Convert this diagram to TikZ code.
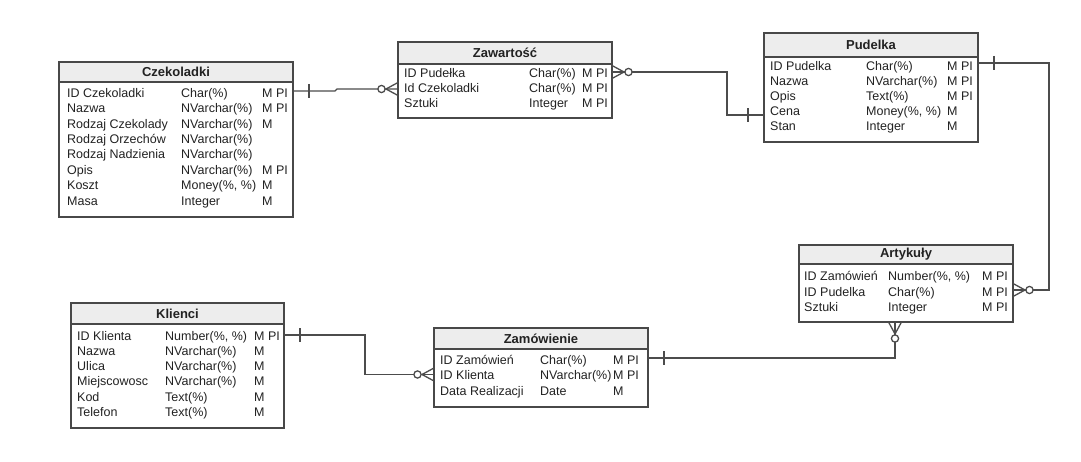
\documentclass[tikz,border=0pt]{standalone}
\usepackage{fontspec}
\setmainfont{Liberation Sans}
\definecolor{boxc}{HTML}{484848}
\definecolor{hdrc}{HTML}{EDEDED}
\definecolor{txtc}{HTML}{222222}
\definecolor{linec}{HTML}{4C4C4C}
\newcommand\erow[8]{%
  \node[cell] (#1a) at (#2,#5) {#6};
  \node[cell] (#1b) at (#3,#5) {#7};
  \node[cell] (#1c) at (#4,#5) {#8};}
\begin{document}
\begin{tikzpicture}[x=1pt,y=-1pt,
  tbl/.style={draw=boxc, line width=1.5pt, fill=white, inner sep=0pt, outer sep=0pt, anchor=north west},
  hdr/.style={draw=boxc, line width=1.5pt, fill=hdrc, inner sep=0pt, outer sep=0pt, anchor=north west,
              font=\fontsize{13}{15}\selectfont\bfseries, text=txtc},
  cell/.style={anchor=base west, inner sep=0pt, font=\fontsize{12.5}{14}\selectfont, text=txtc},
  conn/.style={draw=linec, line width=1.3pt},
  crowpic/.pic={\draw[conn] (0,-6.5) -- (12,0) -- (0,6.5);
                \draw[conn, fill=white] (16.5,0) circle[radius=3.6pt];},
  barpic/.pic={\draw[conn] (16,-7) -- (16,7);}
]
\useasboundingbox (0,0) rectangle (1081,462);

% ---------- Czekoladki ----------
\node[tbl, minimum width=234pt, minimum height=155pt] (czek) at (59,62) {};
\node[hdr, minimum width=234pt, minimum height=20pt] (czekH) at (59,62) {Czekoladki};
\erow{czek1}{67}{181}{262}{97.2}{ID Czekoladki}{Char(\%)}{M PI}
\erow{czek2}{67}{181}{262}{112.7}{Nazwa}{NVarchar(\%)}{M PI}
\erow{czek3}{67}{181}{262}{128.1}{Rodzaj Czekolady}{NVarchar(\%)}{M}
\erow{czek4}{67}{181}{262}{143.6}{Rodzaj Orzechów}{NVarchar(\%)}{}
\erow{czek5}{67}{181}{262}{159.0}{Rodzaj Nadzienia}{NVarchar(\%)}{}
\erow{czek6}{67}{181}{262}{174.5}{Opis}{NVarchar(\%)}{M PI}
\erow{czek7}{67}{181}{262}{189.9}{Koszt}{Money(\%, \%)}{M}
\erow{czek8}{67}{181}{262}{205.4}{Masa}{Integer}{M}

% ---------- Zawartość ----------
\node[tbl, minimum width=214pt, minimum height=76pt] (zaw) at (398,42) {};
\node[hdr, minimum width=214pt, minimum height=22pt] (zawH) at (398,42) {Zawartość};
\erow{zaw1}{404}{529}{582}{77.5}{ID Pudełka}{Char(\%)}{M PI}
\erow{zaw2}{404}{529}{582}{92.5}{Id Czekoladki}{Char(\%)}{M PI}
\erow{zaw3}{404}{529}{582}{107.5}{Sztuki}{Integer}{M PI}

% ---------- Pudelka ----------
\node[tbl, minimum width=214pt, minimum height=109pt] (pud) at (764,33) {};
\node[hdr, minimum width=214pt, minimum height=24pt] (pudH) at (764,33) {Pudelka};
\erow{pud1}{770}{866}{947}{70.2}{ID Pudelka}{Char(\%)}{M PI}
\erow{pud2}{770}{866}{947}{85.2}{Nazwa}{NVarchar(\%)}{M PI}
\erow{pud3}{770}{866}{947}{100.5}{Opis}{Text(\%)}{M PI}
\erow{pud4}{770}{866}{947}{115.5}{Cena}{Money(\%, \%)}{M}
\erow{pud5}{770}{866}{947}{130.5}{Stan}{Integer}{M}

% ---------- Artykuły ----------
\node[tbl, minimum width=214pt, minimum height=77pt] (art) at (799,245) {};
\node[hdr, minimum width=214pt, minimum height=19pt] (artH) at (799,245) {Artykuły};
\erow{art1}{804}{888}{982}{280.2}{ID Zamówień}{Number(\%, \%)}{M PI}
\erow{art2}{804}{888}{982}{296.2}{ID Pudelka}{Char(\%)}{M PI}
\erow{art3}{804}{888}{982}{311.2}{Sztuki}{Integer}{M PI}

% ---------- Klienci ----------
\node[tbl, minimum width=213pt, minimum height=125pt] (kli) at (71,303) {};
\node[hdr, minimum width=213pt, minimum height=21pt] (kliH) at (71,303) {Klienci};
\erow{kli1}{77}{165}{254}{340.2}{ID Klienta}{Number(\%, \%)}{M PI}
\erow{kli2}{77}{165}{254}{355.2}{Nazwa}{NVarchar(\%)}{M}
\erow{kli3}{77}{165}{254}{370.5}{Ulica}{NVarchar(\%)}{M}
\erow{kli4}{77}{165}{254}{385.5}{Miejscowosc}{NVarchar(\%)}{M}
\erow{kli5}{77}{165}{254}{401.2}{Kod}{Text(\%)}{M}
\erow{kli6}{77}{165}{254}{416.8}{Telefon}{Text(\%)}{M}

% ---------- Zamówienie ----------
\node[tbl, minimum width=214pt, minimum height=79pt] (zam) at (434,328) {};
\node[hdr, minimum width=214pt, minimum height=21pt] (zamH) at (434,328) {Zamówienie};
\erow{zam1}{440}{540}{613}{364.5}{ID Zamówień}{Char(\%)}{M PI}
\erow{zam2}{440}{540}{613}{379.5}{ID Klienta}{NVarchar(\%)}{M PI}
\erow{zam3}{440}{540}{613}{395.2}{Data Realizacji}{Date}{M}

% ---------- connectors ----------
% Czekoladki -- Zawartość
\draw[conn] (czek.east |- 0,91) -- (335,91) -- (337,89) -- (zaw.west |- 0,89);
\pic at (czek.east |- 0,91) {barpic};
\pic[rotate=180] at (zaw.west |- 0,89) {crowpic};
% Zawartość -- Pudelka
\draw[conn] (zaw.east |- 0,72) -- (727,72) -- (727,115) -- (pud.west |- 0,115);
\pic at (zaw.east |- 0,72) {crowpic};
\pic[rotate=180] at (pud.west |- 0,115) {barpic};
% Pudelka -- Artykuły
\draw[conn] (pud.east |- 0,63) -- (1049,63) -- (1049,290) -- (art.east |- 0,290);
\pic at (pud.east |- 0,63) {barpic};
\pic at (art.east |- 0,290) {crowpic};
% Klienci -- Zamówienie
\draw[conn] (kli.east |- 0,335) -- (365,335) -- (365,374.5) -- (zam.west |- 0,374.5);
\pic at (kli.east |- 0,335) {barpic};
\pic[rotate=180] at (zam.west |- 0,374.5) {crowpic};
% Zamówienie -- Artykuły
\draw[conn] (zam.east |- 0,358) -- (895,358) -- (art.south -| 895,0);
\pic at (zam.east |- 0,358) {barpic};
\pic[rotate=-90] at (art.south -| 895,0) {crowpic};
\end{tikzpicture}
\end{document}
